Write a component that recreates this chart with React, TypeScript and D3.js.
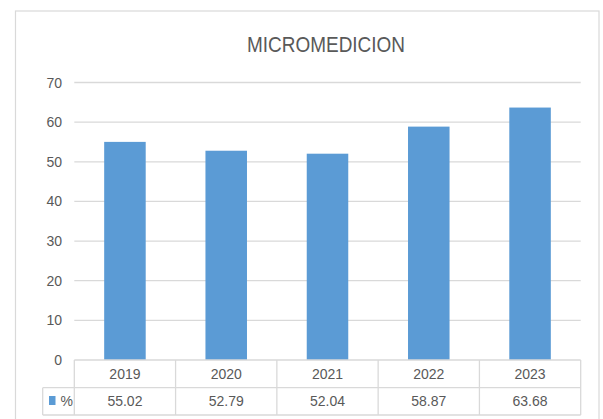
import React from "react";
import * as d3 from "d3";

const categories = ["2019", "2020", "2021", "2022", "2023"];
const values = [55.02, 52.79, 52.04, 58.87, 63.68];
const yTicks = [0, 10, 20, 30, 40, 50, 60, 70];
const seriesName = "%";
const title = "MICROMEDICION";

const W = 603;
const H = 419;
const FONT = "'Liberation Sans', Arial, sans-serif";
const TXT = "#595959";
const GRID = "#d9d9d9";
const BAR = "#5b9bd5";

export default function App() {
  const left = 74.3;
  const right = 580.7;
  const top = 82.5;
  const bottom = 360;
  const x = d3.scaleBand<string>().domain(categories).range([left, right]).paddingInner(0.59).paddingOuter(0.295);
  const xc = d3.scaleBand<string>().domain(categories).range([left, right]);
  const y = d3.scaleLinear().domain([0, 70]).range([bottom, top]);
  const row1 = 360;
  const row2 = 387.7;
  const row3 = 415;
  const legLeft = 42.7;

  return (
    <svg width={W} height={H} style={{ position: "absolute", left: 0, top: 0, background: "#fff" }}>
      <rect x={15.5} y={11} width={583.5} height={420} fill="#fff" stroke={GRID} strokeWidth={1.2} />
      <text x={247} y={51.5} fontFamily={FONT} fontSize={22.5} fill={TXT} textLength={158} lengthAdjust="spacingAndGlyphs">
        {title}
      </text>
      {yTicks.map((t) => (
        <g key={t}>
          {t > 0 && <line x1={left} x2={right} y1={y(t)} y2={y(t)} stroke={GRID} strokeWidth={1.3} />}
          <text x={62} y={y(t) + 5} textAnchor="end" fontFamily={FONT} fontSize={14} fill={TXT}>
            {t}
          </text>
        </g>
      ))}
      {categories.map((c, i) => (
        <rect key={c} x={x(c)} width={x.bandwidth()} y={y(values[i])} height={y(0) - y(values[i])} fill={BAR} />
      ))}
      <g stroke={GRID} strokeWidth={1.3} fill="none">
        <line x1={left} x2={right} y1={row1} y2={row1} />
        <line x1={legLeft} x2={right} y1={row2} y2={row2} />
        <line x1={legLeft} x2={right} y1={row3} y2={row3} />
        <line x1={legLeft} x2={legLeft} y1={row2} y2={row3} />
        {categories.map((c) => (
          <line key={c} x1={xc(c)} x2={xc(c)} y1={row1} y2={row3} />
        ))}
        <line x1={right} x2={right} y1={row1} y2={row3} />
      </g>
      {categories.map((c, i) => (
        <g key={c}>
          <text x={xc(c)! + xc.bandwidth() / 2} y={(row1 + row2) / 2 + 5} textAnchor="middle" fontFamily={FONT} fontSize={14} fill={TXT}>
            {c}
          </text>
          <text x={xc(c)! + xc.bandwidth() / 2} y={(row2 + row3) / 2 + 5} textAnchor="middle" fontFamily={FONT} fontSize={14} fill={TXT}>
            {values[i].toFixed(2)}
          </text>
        </g>
      ))}
      <rect x={49} y={396} width={6.5} height={9} fill={BAR} />
      <text x={60.5} y={(row2 + row3) / 2 + 5} fontFamily={FONT} fontSize={14} fill={TXT}>
        {seriesName}
      </text>
    </svg>
  );
}
